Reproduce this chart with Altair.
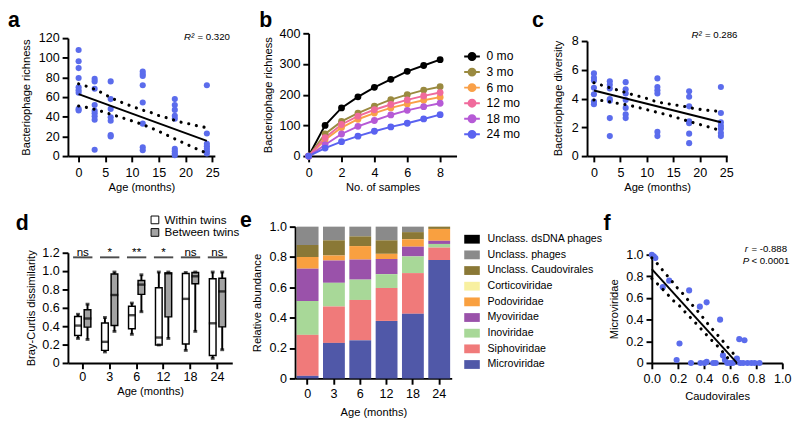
import altair as alt
import pandas as pd

FONT = "Liberation Sans"
BLUE = "#5b6cec"
LFS = 13   # tick label size
TFS = 11.5  # axis title size
ZERO_EXPR = "datum.value == 0 ? '0' : format(datum.value, '.1f')"

# ---------------- panel a : richness vs age ----------------
a_age = [0, 0, 0, 0, 0, 0, 0, 0, 0,
         3, 3, 3, 3, 3, 3, 3, 3, 3,
         6, 6, 6, 6, 6, 6, 6,
         12, 12, 12, 12, 12, 12, 12, 12,
         18, 18, 18, 18, 18, 18, 18, 18, 18,
         24, 24, 24, 24, 24, 24, 24]
a_richness = [108, 96.5, 89.5, 79.5, 70, 67, 64.5, 48, 46.5,
              78.5, 76, 68.5, 52, 46, 43.5, 40.5, 37, 6.5,
              76, 58, 48, 39.5, 36, 21.5, 20,
              86, 83.5, 81.5, 72, 54.5, 33, 9, 6,
              58, 52, 47, 41, 38, 7.5, 5, 2.6, 0.8,
              72, 23, 12.5, 10, 7.5, 5, 2.6]
a_fit_x = [0, 24]
a_fit_y = [63, 15.5]
a_up_x = [0, 1.5, 3, 4.5, 6, 7.4, 8.8, 10.3, 11.8, 13.4, 14.9, 16.5, 18, 19.6, 21, 22.8, 24]
a_up_y = [73.5, 71, 68, 64, 59.6, 56, 53, 50, 47, 44.7, 41.4, 39, 36.4, 33.8, 32.5, 30, 29]
a_lo_x = [0, 1.5, 3, 4.5, 6, 7.6, 9.1, 10.6, 12.1, 13.7, 15.4, 16.8, 18.3, 19.8, 21.3, 22.6, 24]
a_lo_y = [51, 49.5, 47.5, 45.2, 42.6, 40, 37.3, 34.8, 31.8, 28.3, 24.2, 20.6, 16.8, 13, 9.4, 6, 3]

# ---------------- panel b : rarefaction ----------------
b_samples = [0, 1, 2, 3, 4, 5, 6, 7, 8]
b_series = ["0 mo", "3 mo", "6 mo", "12 mo", "18 mo", "24 mo"]
b_colors = ["#000000", "#9a8a40", "#f9a048", "#f06a9c", "#b65ad6", "#5a62f0"]
b_0mo = [0, 100, 157, 193, 224, 250, 276, 295, 314]
b_3mo = [0, 72, 113, 140, 163, 184, 200, 215, 226]
b_6mo = [0, 53, 93, 120, 140, 157, 170, 182, 192]
b_12mo = [0, 60, 103, 130, 151, 168, 183, 196, 207]
b_18mo = [0, 37, 72, 97, 116, 134, 149, 161, 172]
b_24mo = [0, 26, 47, 65, 81, 95, 107, 121, 135]

# ---------------- panel c : diversity vs age ----------------
c_age = [0, 0, 0, 0, 0, 0, 0,
         3, 3, 3, 3, 3, 3, 3,
         6, 6, 6, 6, 6, 6, 6,
         12, 12, 12, 12, 12, 12,
         18, 18, 18, 18, 18, 18, 18,
         24, 24, 24, 24, 24, 24, 24]
c_diversity = [5.75, 5.45, 5.25, 4.75, 4.3, 3.8, 3.6,
               5.2, 4.96, 4.7, 3.96, 3.85, 2.64, 1.39,
               5.14, 4.65, 4.36, 3.9, 3.35, 2.9, 2.64,
               5.4, 4.8, 4.58, 4.36, 1.68, 1.39,
               4.5, 4.13, 3.46, 2.41, 2.28, 1.56, 0.9,
               4.8, 3.0, 2.35, 2.1, 1.9, 1.6, 1.39]
c_fit_x = [0, 24]
c_fit_y = [4.56, 2.35]
c_up_x = [0, 2, 3.5, 6, 7.5, 9.5, 11, 13, 15, 17, 19, 21, 23, 24]
c_up_y = [5.1, 4.87, 4.7, 4.42, 4.25, 4.07, 3.87, 3.69, 3.58, 3.46, 3.3, 3.2, 3.13, 3.08]
c_lo_x = [0, 2, 3.5, 6, 7.5, 9.5, 11, 13, 15, 17, 19, 21, 23, 24]
c_lo_y = [3.9, 3.85, 3.73, 3.58, 3.46, 3.28, 3.13, 2.95, 2.75, 2.52, 2.3, 2.1, 1.88, 1.78]

# ---------------- panel d : Bray-Curtis box plots ----------------
d_ages = ["0", "3", "6", "12", "18", "24"]
d_groups = ["Within twins", "Between twins"]
d_within_min = [0.267, 0.12, 0.312, 0.196, 0.137, 0.05]
d_within_q1 = [0.30, 0.137, 0.372, 0.196, 0.207, 0.081]
d_within_med = [0.407, 0.23, 0.52, 0.277, 0.698, 0.432]
d_within_q3 = [0.505, 0.435, 0.617, 0.818, 0.975, 0.916]
d_within_max = [0.53, 0.495, 0.652, 0.99, 0.985, 0.99]
d_between_min = [0.256, 0.344, 0.558, 0.267, 0.344, 0.144]
d_between_q1 = [0.39, 0.407, 0.747, 0.502, 0.863, 0.393]
d_between_med = [0.484, 0.74, 0.853, 0.975, 0.944, 0.779]
d_between_q3 = [0.58, 0.968, 0.898, 0.979, 0.986, 0.923]
d_between_max = [0.64, 0.99, 0.96, 0.99, 0.99, 0.99]
d_sig = ["ns", "*", "**", "*", "ns", "ns"]
d_sig_bar_level = 1.15
d_sig_text_level = 1.205

# ---------------- panel e : relative abundance ----------------
e_ages = ["0", "3", "6", "12", "18", "24"]
e_families = ["Unclass. dsDNA phages", "Unclass. phages", "Unclass. Caudovirales",
              "Corticoviridae", "Podoviridae", "Myoviridae", "Inoviridae",
              "Siphoviridae", "Microviridae"]
e_colors = ["#000000", "#8a8a8a", "#8a7836", "#f8f0a0", "#f9a040",
            "#9a52aa", "#a8d898", "#f07a7a", "#5058a8"]
e_microviridae = [0.017, 0.234, 0.251, 0.379, 0.426, 0.780]
e_siphoviridae = [0.270, 0.240, 0.266, 0.217, 0.268, 0.082]
e_inoviridae = [0.223, 0.156, 0.134, 0.091, 0.110, 0.024]
e_myoviridae = [0.213, 0.147, 0.132, 0.100, 0.064, 0.021]
e_podoviridae = [0.077, 0.033, 0.089, 0.034, 0.049, 0.078]
e_corticoviridae = [0.0, 0.0, 0.0, 0.0, 0.0, 0.0]
e_caudovirales = [0.079, 0.100, 0.064, 0.089, 0.047, 0.015]
e_unclass_phages = [0.121, 0.090, 0.064, 0.090, 0.036, 0.0]
e_dsdna = [0.0, 0.0, 0.0, 0.0, 0.0, 0.0]

# ---------------- panel f : Microviridae vs Caudovirales ----------------
f_caudo = [0.0, 0.015, 0.027, 0.084, 0.133, 0.212, 0.19, 0.286, 0.30, 0.368, 0.42,
           0.373, 0.405, 0.42, 0.47, 0.49, 0.523, 0.545, 0.56, 0.578, 0.60, 0.62,
           0.652, 0.67, 0.71, 0.677, 0.70, 0.733, 0.763, 0.788, 0.825]
f_micro = [1.0, 0.985, 0.97, 0.70, 0.76, 0.18, 0.027, 0.67, 0.0, 0.52, 0.56,
           0.0, 0.0, 0.01, 0.0, 0.0, 0.40, 0.07, 0.027, 0.0, 0.0, 0.0,
           0.04, 0.22, 0.21, 0.0, 0.0, 0.0, 0.0, 0.0, 0.0]
f_fit_x = [0, 0.652]
f_fit_y = [0.866, 0.0]
f_up_x = [0.0, 0.052, 0.096, 0.146, 0.19, 0.24, 0.286, 0.336, 0.385, 0.43, 0.48, 0.528, 0.578, 0.627, 0.66]
f_up_y = [0.97, 0.905, 0.836, 0.768, 0.70, 0.637, 0.568, 0.5, 0.43, 0.36, 0.29, 0.226, 0.152, 0.083, 0.04]
f_lo_x = [0.0, 0.052, 0.109, 0.158, 0.215, 0.264, 0.32, 0.373, 0.422, 0.47, 0.52, 0.565, 0.602]
f_lo_y = [0.78, 0.72, 0.65, 0.583, 0.524, 0.458, 0.39, 0.32, 0.256, 0.196, 0.137, 0.07, 0.018]


# ---------------- helpers ----------------
def txt(s, dx, dy, size=10, weight="normal", style="normal", align="left", baseline="alphabetic"):
    return alt.Chart(pd.DataFrame({"s": [s]})).mark_text(
        font=FONT, fontSize=size, fontWeight=weight, fontStyle=style, align=align,
        baseline=baseline, color="black").encode(text="s:N", x=alt.value(dx), y=alt.value(dy))


def label(letter, dx, dy):
    return txt(letter, dx, dy, size=22, weight="bold", baseline="top")


def band_df(ux, uy, lx, ly, xname, yname):
    up = pd.DataFrame({xname: ux, yname: uy, "side": "upper"})
    lo = pd.DataFrame({xname: lx, yname: ly, "side": "lower"})
    return pd.concat([up, lo], ignore_index=True)


def dotted(df, X, Y):
    return alt.Chart(df).mark_line(color="black", strokeWidth=3.2, strokeDash=[0.1, 8],
                                   strokeCap="round").encode(x=X, y=Y, detail="side:N")


def fitline(df, X, Y):
    return alt.Chart(df).mark_line(color="black", strokeWidth=2).encode(x=X, y=Y)


def indep(c):
    return c.resolve_scale(color="independent", fill="independent").resolve_legend(
        color="independent", fill="independent")


def ax(title, values=None, **kw):
    opts = dict(title=title, labelOverlap=False, labelFlush=False)
    if values is not None:
        opts["values"] = values
    opts.update(kw)
    return alt.Axis(**opts)


H1 = 127   # row-1 plot group height
H2 = 157   # row-2 plot group height

# ---------------- panel a ----------------
xa = alt.X("age:Q", scale=alt.Scale(domain=[-2, 25.5], nice=False, zero=False),
           axis=ax("Age (months)", [0, 5, 10, 15, 20, 25], labelPadding=5, titlePadding=3))
ya = alt.Y("val:Q", scale=alt.Scale(domain=[0, 120], nice=False, range=[H1, 5]),
           axis=ax("Bacteriophage richness", [0, 20, 40, 60, 80, 100, 120],
                   titlePadding=7, titleY=66))
panel_a = alt.layer(
    alt.Chart(pd.DataFrame({"age": a_age, "val": a_richness})).mark_circle(
        size=40, color=BLUE, opacity=1).encode(x=xa, y=ya),
    dotted(band_df(a_up_x, a_up_y, a_lo_x, a_lo_y, "age", "val"), xa, ya),
    fitline(pd.DataFrame({"age": a_fit_x, "val": a_fit_y}), xa, ya),
    label("a", -62, -24),
    txt("R²", 120, 7, style="italic"),
    txt("= 0.320", 134, 7),
).properties(width=152, height=H1)

# ---------------- panel b ----------------
b_rows = []
for name, vals in zip(b_series, [b_0mo, b_3mo, b_6mo, b_12mo, b_18mo, b_24mo]):
    for n, v in zip(b_samples, vals):
        b_rows.append({"n": n, "rich": v, "series": name})
b_df = pd.DataFrame(b_rows)
LEG_PATH = ("M-1.35,0H1.35"
            "M0.6,0A0.6,0.6,0,1,1,-0.6,0A0.6,0.6,0,1,1,0.6,0"
            "M0.36,0A0.36,0.36,0,1,1,-0.36,0A0.36,0.36,0,1,1,0.36,0"
            "M0.13,0A0.13,0.13,0,1,1,-0.13,0A0.13,0.13,0,1,1,0.13,0")
xb = alt.X("n:Q", scale=alt.Scale(domain=[0, 9], nice=False),
           axis=ax("No. of samples", [0, 2, 4, 6, 8], labelPadding=5, titlePadding=3))
yb = alt.Y("rich:Q", scale=alt.Scale(domain=[0, 400], nice=False),
           axis=ax("Bacteriophage richness", [0, 100, 200, 300, 400], titlePadding=6))
b_color_scale = alt.Scale(domain=b_series, range=b_colors)
b_lines = alt.Chart(b_df).mark_line(strokeWidth=2).encode(
    x=xb, y=yb,
    color=alt.Color("series:N", scale=b_color_scale, sort=b_series,
                    legend=alt.Legend(title=None, orient="none", legendX=162, legendY=17,
                                      symbolType=LEG_PATH, symbolSize=144, symbolStrokeWidth=2,
                                      labelFont=FONT, labelFontSize=12.5, labelOffset=8,
                                      rowPadding=0.1, padding=0)))
b_pts = alt.Chart(b_df).mark_circle(size=50, opacity=1).encode(
    x=xb, y=yb,
    color=alt.Color("series:N", scale=b_color_scale, sort=b_series, legend=None))
panel_b = alt.layer(b_lines, b_pts, label("b", -51, -24)).resolve_legend(
    color="independent").properties(width=153, height=H1)

# ---------------- panel c ----------------
xc = alt.X("age:Q", scale=alt.Scale(domain=[-1.3, 25.2], nice=False, zero=False),
           axis=ax("Age (months)", [0, 5, 10, 15, 20, 25], labelPadding=5, titlePadding=3))
yc = alt.Y("val:Q", scale=alt.Scale(domain=[0, 8], nice=False, range=[H1, 8]),
           axis=ax("Bacteriophage diversity", [0, 2, 4, 6, 8], titlePadding=8, titleY=67))
panel_c = alt.layer(
    alt.Chart(pd.DataFrame({"age": c_age, "val": c_diversity})).mark_circle(
        size=40, color=BLUE, opacity=1).encode(x=xc, y=yc),
    dotted(band_df(c_up_x, c_up_y, c_lo_x, c_lo_y, "age", "val"), xc, yc),
    fitline(pd.DataFrame({"age": c_fit_x, "val": c_fit_y}), xc, yc),
    label("c", -57, -24),
    txt("R²", 108, 5, style="italic"),
    txt("= 0.286", 122, 5),
).properties(width=145, height=H1)

# ---------------- panel d ----------------
whisk_rows, box_rows, med_rows, cap_rows = [], [], [], []
for grp, mn, q1, md, q3, mx in [
        ("Within twins", d_within_min, d_within_q1, d_within_med, d_within_q3, d_within_max),
        ("Between twins", d_between_min, d_between_q1, d_between_med, d_between_q3, d_between_max)]:
    for i, age in enumerate(d_ages):
        whisk_rows.append({"age": age, "grp": grp, "v": mn[i], "v2": mx[i]})
        box_rows.append({"age": age, "grp": grp, "v": q1[i], "v2": q3[i]})
        med_rows.append({"age": age, "grp": grp, "v": md[i]})
        cap_rows.append({"age": age, "grp": grp, "v": mn[i]})
        cap_rows.append({"age": age, "grp": grp, "v": mx[i]})
sig_line_df = pd.DataFrame({"age": d_ages, "v": [d_sig_bar_level] * len(d_ages)})
sig_text_df = pd.DataFrame({"age": d_ages, "v": [d_sig_text_level] * len(d_ages), "sig": d_sig})

xd = alt.X("age:N", sort=d_ages, scale=alt.Scale(paddingInner=0, paddingOuter=0.05),
           axis=ax("Age (months)", labelAngle=0, offset=-16, labelPadding=2, titlePadding=3))
xo = alt.XOffset("grp:N", sort=d_groups, scale=alt.Scale(paddingInner=0.3, paddingOuter=0.565))
yd = alt.Y("v:Q", scale=alt.Scale(domain=[0, 1.2], nice=False, range=[H2 - 16, 27]),
           axis=ax("Bray-Curtis dissimilarity", [0, 0.2, 0.4, 0.6, 0.8, 1.0, 1.2],
                   labelExpr=ZERO_EXPR, titlePadding=5, titleY=84))

d_whisk = alt.Chart(pd.DataFrame(whisk_rows)).mark_rule(color="black", strokeWidth=2).encode(
    x=xd, xOffset=xo, y=yd, y2="v2:Q")
d_box = alt.Chart(pd.DataFrame(box_rows)).mark_bar(stroke="black", strokeWidth=1.5).encode(
    x=xd, xOffset=xo, y=yd, y2="v2:Q",
    fill=alt.Fill("grp:N", sort=d_groups,
                  scale=alt.Scale(domain=d_groups, range=["#ffffff", "#a3a3a3"]),
                  legend=alt.Legend(title=None, orient="none", legendX=84, legendY=-13,
                                    symbolType="square", symbolSize=64,
                                    symbolStrokeColor="black", symbolStrokeWidth=1,
                                    labelFont=FONT, labelFontSize=12, labelOffset=4,
                                    rowPadding=1, padding=0)))
d_med = alt.Chart(pd.DataFrame(med_rows)).mark_tick(color="black", thickness=2.5, size=8).encode(
    x=xd, xOffset=xo, y=yd)
d_caps = alt.Chart(pd.DataFrame(cap_rows)).mark_tick(color="black", thickness=3, size=4).encode(
    x=xd, xOffset=xo, y=yd)
d_sig_line = alt.Chart(sig_line_df).mark_tick(color="black", thickness=2, size=20).encode(
    x=xd, y=yd)
d_sig_txt = alt.Chart(sig_text_df).mark_text(font=FONT, fontSize=12, color="black",
                                             baseline="middle").encode(
    x=xd, y=yd, text="sig:N")
panel_d = alt.layer(d_whisk, d_box, d_med, d_caps, d_sig_line, d_sig_txt,
                    label("d", -54, -14)).properties(width=170, height=H2)

# ---------------- panel e ----------------
e_rows = []
e_vals = [e_dsdna, e_unclass_phages, e_caudovirales, e_corticoviridae, e_podoviridae,
          e_myoviridae, e_inoviridae, e_siphoviridae, e_microviridae]
for k, (fam, vals) in enumerate(zip(e_families, e_vals)):
    for age, v in zip(e_ages, vals):
        e_rows.append({"age": age, "family": fam, "frac": v, "rank": len(e_families) - k})
e_df = pd.DataFrame(e_rows)
LEG_RECT = "M-1.15,-0.65H1.15V0.65H-1.15Z"
e_bars = alt.Chart(e_df).mark_bar().encode(
    x=alt.X("age:N", sort=e_ages, scale=alt.Scale(paddingInner=0.17, paddingOuter=0.06),
            axis=ax("Age (months)", labelAngle=0, labelPadding=4, titlePadding=6)),
    y=alt.Y("frac:Q", stack="zero", scale=alt.Scale(domain=[0, 1], nice=False),
            axis=ax("Relative abundance", [0, 0.2, 0.4, 0.6, 0.8, 1.0],
                    labelExpr=ZERO_EXPR, titlePadding=7)),
    color=alt.Color("family:N", sort=e_families,
                    scale=alt.Scale(domain=e_families, range=e_colors),
                    legend=alt.Legend(title=None, orient="none", legendX=176, legendY=6,
                                      symbolType=LEG_RECT, symbolSize=196,
                                      symbolStrokeWidth=0, labelFont=FONT,
                                      labelFontSize=11, labelOffset=9, rowPadding=4.2,
                                      padding=0)),
    order=alt.Order("rank:Q", sort="ascending"))
panel_e = alt.layer(e_bars, label("e", -57, -17)).properties(width=162, height=H2)

# ---------------- panel f ----------------
xf = alt.X("caudo:Q", scale=alt.Scale(domain=[0, 1], nice=False),
           axis=ax("Caudovirales", [0, 0.2, 0.4, 0.6, 0.8, 1.0], format=".1f",
                   offset=-16, labelPadding=4, titlePadding=6))
yf = alt.Y("micro:Q", scale=alt.Scale(domain=[0, 1], nice=False, range=[H2 - 16, 29]),
           axis=ax("Microviridae", [0, 0.2, 0.4, 0.6, 0.8, 1.0], labelExpr=ZERO_EXPR,
                   titlePadding=6, titleY=85))
panel_f = alt.layer(
    alt.Chart(pd.DataFrame({"caudo": f_caudo, "micro": f_micro})).mark_circle(
        size=40, color=BLUE, opacity=1).encode(x=xf, y=yf),
    dotted(band_df(f_up_x, f_up_y, f_lo_x, f_lo_y, "caudo", "micro"), xf, yf),
    fitline(pd.DataFrame({"caudo": f_fit_x, "micro": f_fit_y}), xf, yf),
    label("f", -50, -14),
    txt("r", 96, 26, style="italic"),
    txt("= -0.888", 103, 26),
    txt("P", 94, 39, style="italic"),
    txt("< 0.0001", 103, 39),
).properties(width=135, height=H2)

row1 = indep(alt.hconcat(panel_a, indep(alt.hconcat(panel_b, panel_c, spacing=12)), spacing=30))
row2 = indep(alt.hconcat(indep(alt.hconcat(panel_d, panel_e, spacing=0)), panel_f, spacing=0))

chart = indep(alt.vconcat(row1, row2, spacing=16)).properties(
    padding={"left": 0, "top": -6, "right": 0, "bottom": 0}
).configure_view(stroke=None).configure_axis(
    domainColor="black", domainWidth=2, tickColor="black", tickWidth=2, tickSize=6,
    labelFont=FONT, labelFontSize=LFS, labelColor="black", labelPadding=3,
    labelOverlap=False, labelFlush=False,
    titleFont=FONT, titleFontSize=TFS, titleFontWeight="normal", titleColor="black",
    grid=False
).configure_legend(labelColor="black")

chart.save("out.html", embed_options={"renderer": "svg", "actions": False})
